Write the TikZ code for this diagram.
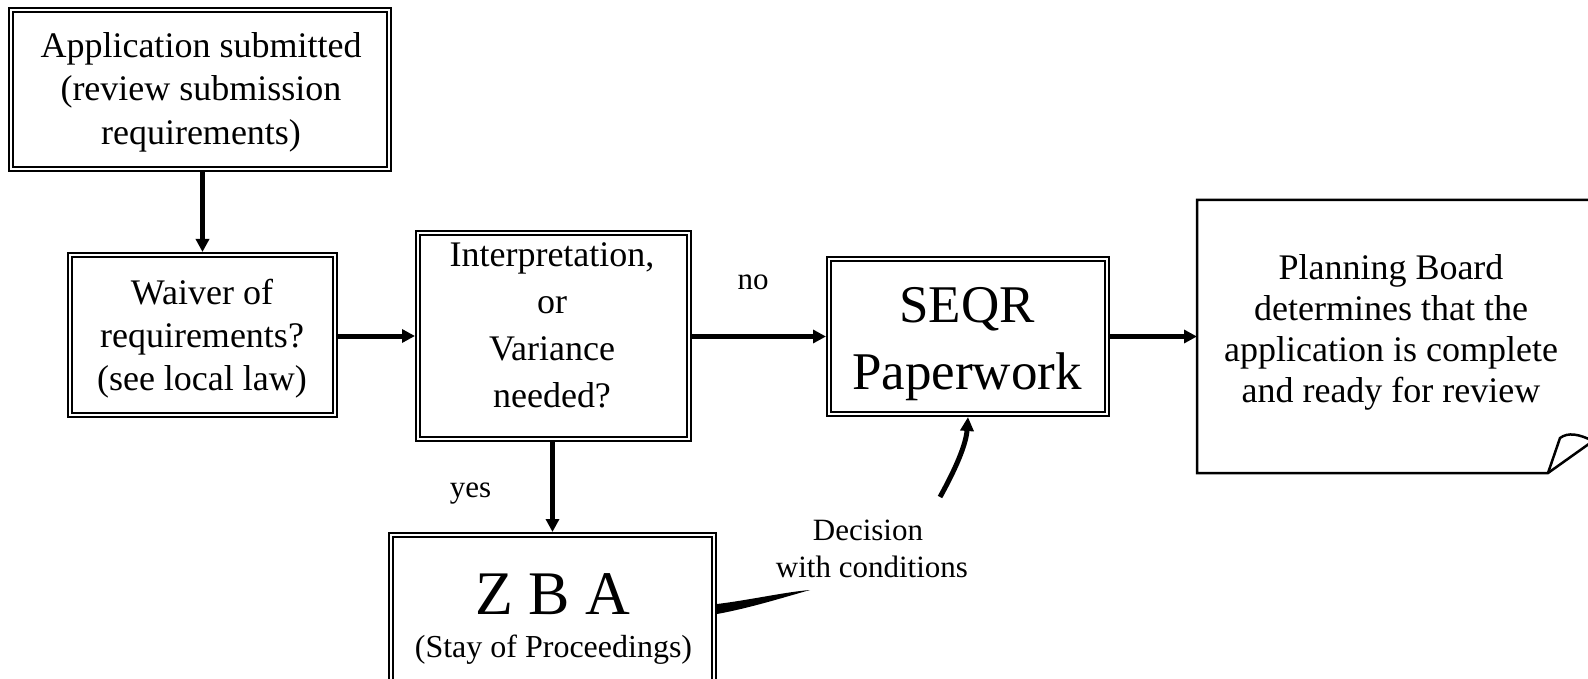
\documentclass[tikz,border=0pt]{standalone}
\usepackage{fontspec}
\setmainfont{Liberation Serif}
\usetikzlibrary{arrows.meta,calc}
\begin{document}
\begin{tikzpicture}[x=1pt,y=-1pt,
  dbox/.style={draw=black, double=white, line width=2.2pt, double distance=2pt,
    outer sep=3.2pt, inner sep=0pt},
  txt/.style={align=center, inner sep=0pt, font=\fontsize{36}{43}\selectfont},
  lbl/.style={inner sep=0pt, font=\fontsize{31}{37}\selectfont},
  arr/.style={line width=5pt, -{Triangle[length=13pt,width=13pt]}},
  noteline/.style={line width=2.5pt, line join=miter},
  notearea/.style={draw=none, inner sep=0pt, outer sep=0pt,
    minimum width=388pt, minimum height=273pt}]
\useasboundingbox (0,0) rectangle (1588,679);

% frames of the process boxes
\node[dbox, minimum width=377.6pt, minimum height=158.6pt] (app) at (200,89.5) {};
\node[dbox, minimum width=264.6pt, minimum height=159.6pt] (waiver) at (202.5,335) {};
\node[dbox, minimum width=270.6pt, minimum height=205.6pt] (interp) at (553.5,336) {};
\node[dbox, minimum width=277.6pt, minimum height=154.6pt] (seqr) at (968,336.5) {};
\node[dbox, minimum width=322.6pt, minimum height=159.6pt] (zba) at (552.5,615) {};
\node[notearea] (note) at (1391,336.5) {};

% document shape with a curled corner
\draw[noteline] (note.north west) -- (1593,200) -- (1593,441) -- (1548,473)
  -- (note.south west) -- cycle;
\draw[noteline] (1548,473) -- (1560,438) .. controls (1568,432) and (1579,434) .. (1593,441);

% box texts
\node[txt, font=\fontsize{36}{43.5}\selectfont] (appText) at (201,92)
  {Application submitted\\(review submission\\requirements)};
\node[txt] (waiverText) at (202,339) {Waiver of\\requirements?\\(see local law)};
\node[txt, font=\fontsize{36}{47}\selectfont] (interpText) at (552,325)
  {Interpretation,\\or\\Variance\\needed?};
\node[txt, font=\fontsize{53}{67}\selectfont] (seqrText) at (967,344) {SEQR\\Paperwork};
\node[anchor=base, inner sep=0pt, font=\fontsize{62}{62}\selectfont] (zbaTitle)
  at (552.5,614) {Z B A};
\node[anchor=base, inner sep=0pt, font=\fontsize{32}{38}\selectfont] (zbaSub)
  at (553.5,657) {(Stay of Proceedings)};
\node[txt, font=\fontsize{36}{41}\selectfont] (noteText) at (1391,332)
  {Planning Board\\determines that the\\application is complete\\and ready for review};

% connectors
\draw[arr] (app.south -| waiver.north) -- (waiver.north);
\draw[arr] (waiver.east |- interp.west) -- (interp.west);
\draw[arr] (interp.east |- seqr.west) -- (seqr.west);
\draw[arr] (seqr.east) -- (seqr.east -| note.west);
\draw[arr] (interp.south -| zba.north) -- (zba.north);

% conditional decision path from the ZBA back to the SEQR box
\coordinate (tailEnd) at (810,590);
\coordinate (headStart) at (940,497);
\fill ($(zba.east)+(0,-11)$) .. controls (750,600) and (785,592) .. (tailEnd)
  .. controls (785,597) and (750,608) .. ($(zba.east)+(0,-1)$) -- cycle;
\draw[line width=5pt, -{Triangle[length=14pt,width=13pt]}]
  (headStart) .. controls (955,470) and (966,445) .. (seqr.south);

% branch labels
\node[lbl, anchor=base] (noLbl) at (753,290) {no};
\node[lbl, anchor=base] (yesLbl) at (470.5,497) {yes};
\node[lbl, align=center] (decLbl) at (872,548.5) {Decision\hspace*{8pt}\\with conditions};
\end{tikzpicture}
\end{document}
